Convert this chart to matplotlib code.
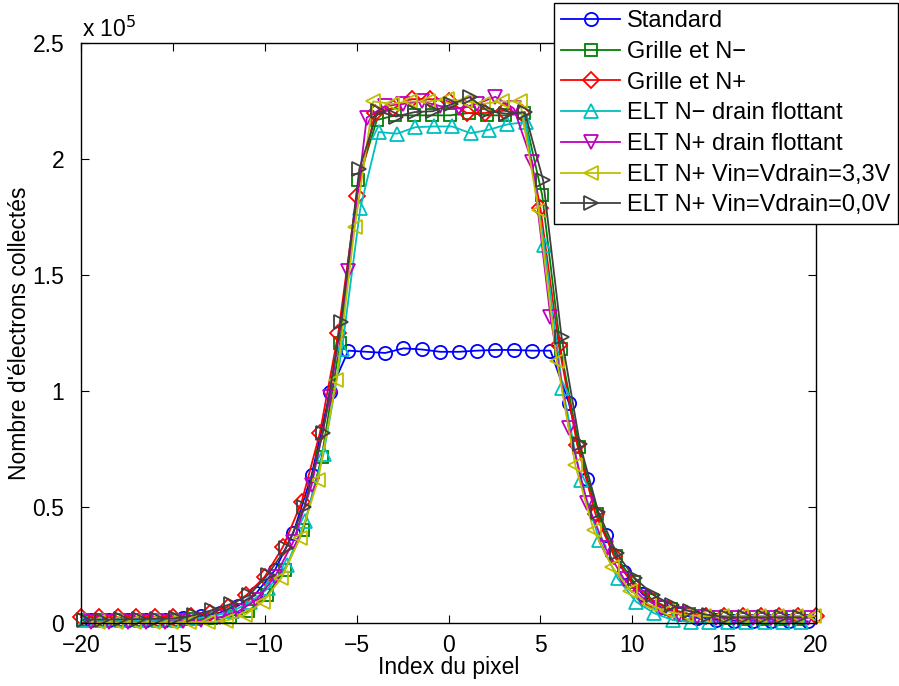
import numpy as np
import matplotlib
matplotlib.use("Agg")
import matplotlib.pyplot as plt

plt.rcParams['font.family'] = ['Liberation Sans', 'DejaVu Sans']

# Collected charge (in units of 1e5 electrons) per pixel for each structure.
# Pixel positions are given relative to the fitted spot centre of each profile.
labels = [
    "Standard",
    "Grille et N\u2212",
    "Grille et N+",
    "ELT N\u2212 drain flottant",
    "ELT N+ drain flottant",
    "ELT N+ Vin=Vdrain=3,3V",
    "ELT N+ Vin=Vdrain=0,0V",
]

# first pixel index of each profile and fitted centre offset
first_pixel = [-20, -20, -20, -20, -20, -19, -20]
centre_shift = [0.55, 0.10, 0.0, 0.20, 0.55, -0.10, 0.15]

standard = [0.012, 0.012, 0.012, 0.013, 0.015, 0.020, 0.030, 0.045, 0.075, 0.130,
            0.228, 0.388, 0.638, 0.997, 1.175, 1.170, 1.165, 1.185, 1.180, 1.170,
            1.170, 1.175, 1.178, 1.178, 1.175, 1.175, 0.950, 0.620, 0.379, 0.221,
            0.125, 0.068, 0.038, 0.022, 0.014, 0.010, 0.008, 0.007, 0.007, 0.007]

grille_nm = [0.012, 0.012, 0.012, 0.012, 0.013, 0.014, 0.016, 0.020, 0.028, 0.050,
             0.120, 0.230, 0.400, 0.717, 1.210, 1.910, 2.170, 2.190, 2.190, 2.190,
             2.190, 2.200, 2.190, 2.190, 2.200, 1.845, 1.180, 0.760, 0.470, 0.290,
             0.175, 0.100, 0.060, 0.038, 0.026, 0.020, 0.018, 0.017, 0.017, 0.017]

grille_np = [0.025, 0.026, 0.025, 0.026, 0.025, 0.027, 0.030, 0.045, 0.070, 0.120,
             0.200, 0.330, 0.520, 0.820, 1.250, 1.840, 2.200, 2.220, 2.260, 2.260,
             2.250, 2.200, 2.200, 2.210, 2.200, 1.790, 1.200, 0.770, 0.470, 0.290,
             0.170, 0.100, 0.060, 0.040, 0.032, 0.030, 0.030, 0.030, 0.030, 0.030,
             0.030]

elt_nm_float = [0.012, 0.012, 0.012, 0.012, 0.013, 0.014, 0.020, 0.030, 0.050, 0.090,
                0.150, 0.250, 0.440, 0.730, 1.180, 1.790, 2.118, 2.111, 2.139, 2.142,
                2.142, 2.113, 2.128, 2.151, 2.161, 1.630, 1.016, 0.616, 0.360, 0.193,
                0.092, 0.042, 0.013, 0.005, 0.004, 0.004, 0.004, 0.004, 0.004, 0.004]

elt_np_float = [0.005, 0.005, 0.005, 0.005, 0.006, 0.008, 0.012, 0.025, 0.050, 0.100,
                0.200, 0.350, 0.595, 0.975, 1.520, 2.180, 2.230, 2.240, 2.250, 2.230,
                2.220, 2.240, 2.270, 2.220, 1.990, 1.320, 0.840, 0.516, 0.322, 0.190,
                0.110, 0.065, 0.040, 0.028, 0.022, 0.022, 0.022, 0.022, 0.022, 0.022]

elt_np_33v = [0.003, 0.003, 0.003, 0.003, 0.003, 0.004, 0.004, 0.010, 0.034, 0.092,
              0.193, 0.365, 0.616, 1.047, 1.710, 2.250, 2.240, 2.250, 2.250, 2.260,
              2.250, 2.240, 2.250, 2.250, 1.780, 1.130, 0.680, 0.400, 0.243, 0.140,
              0.080, 0.050, 0.035, 0.030, 0.030, 0.030, 0.030, 0.030, 0.030, 0.030]

elt_np_00v = [0.015, 0.015, 0.016, 0.017, 0.018, 0.020, 0.034, 0.056, 0.082, 0.120,
              0.207, 0.322, 0.500, 0.818, 1.300, 1.960, 2.208, 2.185, 2.204, 2.208,
              2.237, 2.269, 2.208, 2.197, 2.204, 1.910, 1.234, 0.772, 0.480, 0.300,
              0.193, 0.121, 0.078, 0.050, 0.035, 0.025, 0.025, 0.025, 0.025, 0.025]

profiles = [standard, grille_nm, grille_np, elt_nm_float,
            elt_np_float, elt_np_33v, elt_np_00v]

colors = ["#0000ff", "#008000", "#ff0000", "#00bfbf",
          "#bf00bf", "#bfbf00", "#404040"]
markers = ["o", "s", "D", "^", "v", "<", ">"]
msizes = [9.5, 8, 8, 10, 10, 10, 10]

x_ticks = [-20, -15, -10, -5, 0, 5, 10, 15, 20]
y_ticks = [0, 0.5, 1, 1.5, 2, 2.5]
y_ticklabels = ["0", "0.5", "1", "1.5", "2", "2.5"]

FS = 16.5

fig = plt.figure(figsize=(8.99, 6.86), dpi=100)
ax = fig.add_axes([0.0901, 0.0918, 0.8176, 0.8448])

for vals, p0, shift, c, m, ms, lab in zip(profiles, first_pixel, centre_shift,
                                           colors, markers, msizes, labels):
    idx = np.arange(p0, p0 + len(vals))
    xs = idx + shift
    ax.plot(xs, vals, color=c, marker=m, markersize=ms, markerfacecolor="none",
            markeredgecolor=c, markeredgewidth=1.3, linewidth=1.3, label=lab,
            clip_on=False)

ax.set_xlim(-20, 20)
ax.set_ylim(0, 2.5)
ax.set_xticks(x_ticks)
ax.set_xticklabels([("\u2212" + str(abs(t))) if t < 0 else str(t) for t in x_ticks])
ax.set_yticks(y_ticks)
ax.set_yticklabels(y_ticklabels)
ax.tick_params(direction="in", top=True, right=True, length=6, width=0.8,
               labelsize=FS)
ax.tick_params(axis="x", pad=8)
ax.tick_params(axis="y", pad=12)
for s in ax.spines.values():
    s.set_linewidth(1.0)

ax.set_xlabel("Index du pixel", fontsize=FS, labelpad=-1)
ax.set_ylabel("Nombre d'\u00e9lectrons collect\u00e9s", fontsize=FS, labelpad=1)

fig.text(82 / 899, 1 - 37 / 686, "x 10$^{5}$", fontsize=FS, ha="left",
         va="baseline")

leg = fig.legend(loc="upper left", bbox_to_anchor=(554 / 899, 1 - 3 / 686),
                 fontsize=17, frameon=True, fancybox=False, edgecolor="black",
                 framealpha=1, handlelength=2.5, handletextpad=0.3,
                 labelspacing=0.37, borderpad=0.3, borderaxespad=0)
leg.get_frame().set_linewidth(1.0)

fig.savefig("out.png", dpi=100)
